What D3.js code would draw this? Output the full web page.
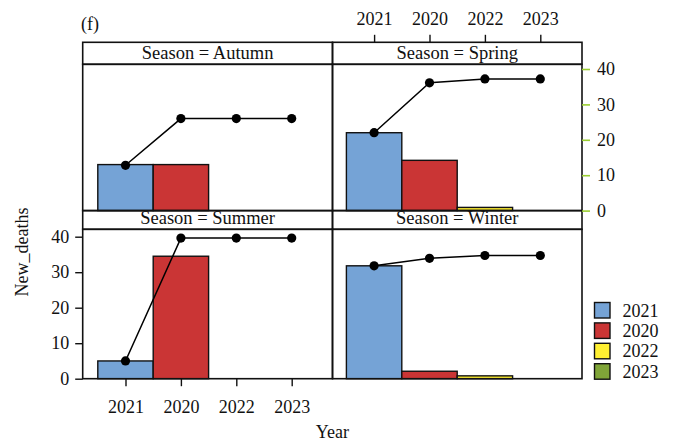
<!DOCTYPE html>
<html>
<head>
<meta charset="utf-8">
<script src="https://cdn.jsdelivr.net/npm/d3@7"></script>
<style>
  body { margin: 0; background: #fff; }
  svg text { font-family: "Liberation Serif", "Times New Roman", serif !important; fill: #111; }
</style>
</head>
<body>
<svg id="chart" width="674" height="444"></svg>
<script>
// data
const years = ["2021", "2020", "2022", "2023"];
const yearColors = ["#75a3d6", "#ca3535", "#fff032", "#80a538"];
const seasons = ["Autumn", "Spring", "Summer", "Winter"];
const autumnDeaths = [13, 13, 0, 0];
const springDeaths = [22, 14.2, 0.9, 0];
const summerDeaths = [5, 34.5, 0, 0];
const winterDeaths = [31.8, 2.1, 0.8, 0];
const autumnCumul = [12.8, 26, 26, 26];
const springCumul = [22, 36.1, 37.2, 37.2];
const summerCumul = [5, 39.6, 39.6, 39.6];
const winterCumul = [31.8, 33.9, 34.7, 34.7];
const yTicks = [0, 10, 20, 30, 40];

const deaths = [autumnDeaths, springDeaths, summerDeaths, winterDeaths];
const cumul = [autumnCumul, springCumul, summerCumul, winterCumul];

const svg = d3.select("#chart");
const serif = "'Liberation Serif', 'Times New Roman', serif";

// layout
const colX = [82.7, 332.5, 582];
const rows = [
  { stripTop: 42.3, plotTop: 64.3, bottom: 210.6 },
  { stripTop: 210.6, plotTop: 229.3, bottom: 378.7 }
];
const y40 = [69, 236.7];
const step = 55.4;

const color = d3.scaleOrdinal(years, yearColors);

function makeX(col) {
  const start = colX[col] + 42.8 - (col ? 1.2 : 0);
  return d3.scalePoint().domain(years).range([start, start + step * 3]);
}
function makeY(row) {
  return d3.scaleLinear().domain([0, 40]).range([rows[row].bottom, y40[row]]);
}

seasons.forEach((season, i) => {
  const col = i % 2, row = Math.floor(i / 2);
  const x = makeX(col), y = makeY(row);
  const r = rows[row];
  const g = svg.append("g");

  // bars
  g.selectAll("rect.bar")
    .data(years.map((yr, k) => ({ yr, v: deaths[i][k] })).filter(d => d.v > 0))
    .join("rect")
    .attr("x", d => x(d.yr) - step / 2)
    .attr("width", step)
    .attr("y", d => y(d.v))
    .attr("height", d => y(0) - y(d.v))
    .attr("fill", d => color(d.yr))
    .attr("stroke", "#111")
    .attr("stroke-width", 1.4);

  // cumulative line
  const pts = years.map((yr, k) => ({ yr, v: cumul[i][k] }));
  g.append("path")
    .datum(pts)
    .attr("fill", "none")
    .attr("stroke", "#000")
    .attr("stroke-width", 1.5)
    .attr("d", d3.line().x(d => x(d.yr)).y(d => y(d.v)));
  g.selectAll("circle")
    .data(pts)
    .join("circle")
    .attr("cx", d => x(d.yr))
    .attr("cy", d => y(d.v))
    .attr("r", 4.6)
    .attr("fill", "#000");

  // strip
  g.append("rect")
    .attr("x", colX[col]).attr("y", r.stripTop)
    .attr("width", colX[col + 1] - colX[col]).attr("height", r.plotTop - r.stripTop)
    .attr("fill", "none").attr("stroke", "#111").attr("stroke-width", 1.6);
  g.append("text")
    .attr("x", (colX[col] + colX[col + 1]) / 2)
    .attr("y", r.plotTop - 5)
    .attr("text-anchor", "middle")
    .style("font-size", "18.5px")
    .text(`Season = ${season}`);

  // panel border
  g.append("rect")
    .attr("x", colX[col]).attr("y", r.plotTop)
    .attr("width", colX[col + 1] - colX[col]).attr("height", r.bottom - r.plotTop)
    .attr("fill", "none").attr("stroke", "#111").attr("stroke-width", 1.6);
});

// axes (lattice alternating)
function styleAxis(sel) {
  sel.attr("font-family", serif).attr("font-size", 18);
  sel.select(".domain").remove();
  sel.selectAll("text").style("font-family", serif).style("font-size", "18px").attr("fill", "#111");
}

// bottom axis under Summer
svg.append("g")
  .attr("transform", `translate(0,${rows[1].bottom})`)
  .call(d3.axisBottom(makeX(0)).tickSize(7.5).tickPadding(14))
  .call(styleAxis)
  .call(s => s.selectAll("line").attr("stroke", "#111").attr("stroke-width", 1.4));

// top axis over Spring
svg.append("g")
  .attr("transform", `translate(0,${rows[0].stripTop})`)
  .call(d3.axisTop(makeX(1)).tickSize(7.5).tickPadding(10))
  .call(styleAxis)
  .call(s => s.selectAll("line").attr("stroke", "#111").attr("stroke-width", 1.4));

// left axis beside Summer
svg.append("g")
  .attr("transform", `translate(${colX[0]},0)`)
  .call(d3.axisLeft(makeY(1)).tickValues(yTicks).tickSize(7.5).tickPadding(6))
  .call(styleAxis)
  .call(s => s.selectAll("line").attr("stroke", "#111").attr("stroke-width", 1.4));

// right axis beside Spring
svg.append("g")
  .attr("transform", `translate(${colX[2]},0)`)
  .call(d3.axisRight(makeY(0)).tickValues(yTicks).tickSize(8).tickPadding(7))
  .call(styleAxis)
  .call(s => s.selectAll("line").attr("stroke", "#9acd32").attr("stroke-width", 1.6));

// titles
svg.append("text").attr("x", 81).attr("y", 30).style("font-size", "18px").text("(f)");
svg.append("text")
  .attr("x", (colX[0] + colX[2]) / 2).attr("y", 438)
  .attr("text-anchor", "middle").style("font-size", "18px").text("Year");
svg.append("text")
  .attr("transform", "translate(28,252) rotate(-90)")
  .attr("text-anchor", "middle").style("font-size", "18px").text("New_deaths");

// legend
const legend = svg.append("g").attr("transform", "translate(594.5,302.5)");
years.forEach((yr, k) => {
  const row = legend.append("g").attr("transform", `translate(0,${k * 20.4})`);
  row.append("rect").attr("width", 15.5).attr("height", 15.5)
    .attr("fill", color(yr)).attr("stroke", "#111").attr("stroke-width", 1.4);
  row.append("text").attr("x", 28).attr("y", 14).style("font-size", "18px").text(yr);
});
</script>
</body>
</html>
